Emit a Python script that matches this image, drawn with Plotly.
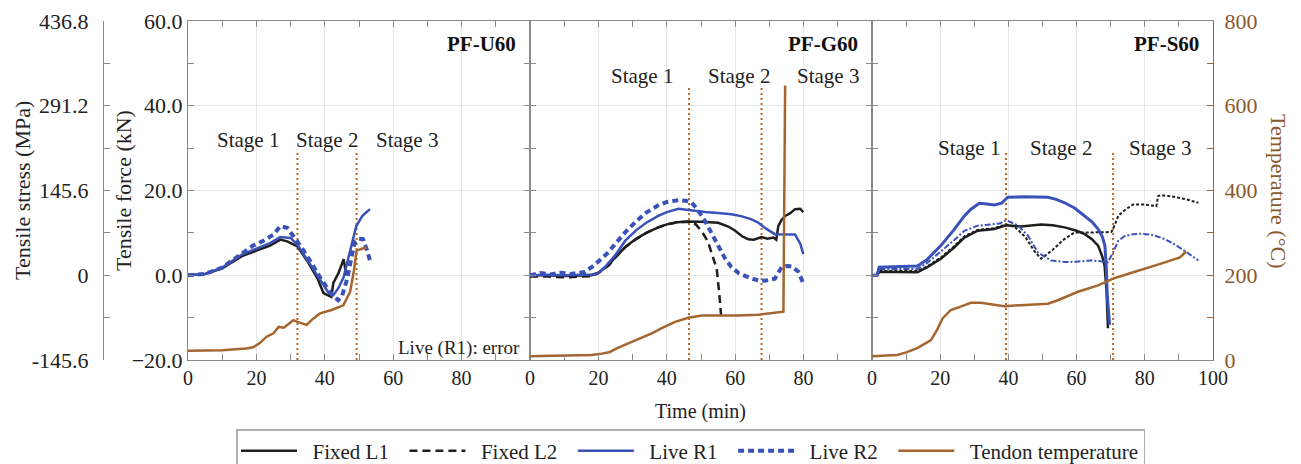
import plotly.graph_objects as go

# ---------------- DATA ----------------
# PF-U60 (panel 1)
u_l1_t = [0, 5, 10, 13, 16, 20, 24, 27, 29, 32, 35, 38, 39.6, 41.9, 42.5, 44, 45.5, 46.3]
u_l1_f = [0, 0.3, 1.6, 3.0, 4.6, 5.8, 7.0, 8.4, 8.0, 6.8, 3.2, -1.0, -4.2, -5.1, -1.8, 0.5, 3.8, 0.0]
u_r1_t = [0, 5, 10, 13, 16, 20, 24, 27, 30, 32, 35, 38, 41, 42.5, 44, 45.5, 46.8, 48, 49.2, 51, 53.2]
u_r1_f = [0, 0.3, 1.8, 3.3, 5.0, 6.3, 7.6, 9.0, 8.8, 7.2, 3.5, -0.5, -4.0, -4.7, -3.0, -0.5, 4.0, 8.0, 11.6, 14.0, 15.6]
u_r2_t = [0, 5, 10, 13, 16, 19, 22, 25, 27, 29, 31, 33, 36, 39, 42, 43.9, 45, 46.5, 48, 48.8, 50, 51.2, 52.3, 53.2]
u_r2_f = [0, 0.3, 1.8, 3.5, 5.3, 7.0, 8.1, 9.6, 11.6, 11.2, 9.0, 6.8, 3.0, -1.0, -4.5, -5.9, -5.0, -1.0, 5.0, 7.8, 8.6, 8.5, 6.0, 3.5]
u_tmp_t = [0, 10, 17, 19, 21, 23, 25, 26.5, 28, 30.8, 32, 34.7, 36.5, 38.6, 42, 45.4, 47.4, 48.5, 49.3, 50.5, 52.2]
u_tmp_v = [22, 23, 27, 30, 40, 55, 63, 78, 76, 94, 90, 83, 97, 110, 118, 129, 161, 210, 258, 262, 266]

# PF-G60 (panel 2)
g_l1_t = [0, 5, 10, 15, 18, 20, 23, 25, 27.8, 31, 34, 37.5, 40, 43, 46.3, 50, 55, 58, 60, 62, 63.8, 65.5,
          67.7, 69.5, 71.2, 72, 72.6, 73.5, 74.6, 76, 77.5, 79, 79.9]
g_l1_f = [0, 0, -0.2, 0, 0, 0.6, 2.4, 4.3, 6.6, 8.6, 10.0, 11.3, 12.0, 12.5, 12.7, 12.6, 12.4, 11.5, 10.5,
          9.2, 8.5, 8.4, 9.0, 8.6, 8.9, 8.4, 11.6, 13.0, 14.0, 14.6, 15.6, 15.7, 14.9]
g_l2_t = [0, 5, 10, 15, 18, 20, 23, 25, 27.8, 31, 34, 37.5, 40, 43, 46.3, 48.5, 50.5, 52, 53.5, 54.6, 55.3, 56.0]
g_l2_f = [-0.3, -0.3, -0.5, -0.4, -0.2, 0.5, 2.3, 4.2, 6.6, 8.5, 10.0, 11.3, 12.0, 12.5, 12.6, 12.0, 10.0,
          8.0, 4.5, 1.5, -4.0, -10.6]
g_r1_t = [0, 5, 10, 15, 18, 20, 22, 25, 27.8, 31, 34, 37.5, 40, 43.4, 46, 51.2, 55, 58.9, 62, 64.8, 66.8,
          69, 71.6, 74, 77.5, 79, 79.9]
g_r1_f = [0, 0.1, 0, 0.2, 0.2, 0.5, 2.0, 4.8, 8.1, 10.6, 12.4, 14.0, 14.9, 15.7, 15.4, 14.9, 14.7, 14.4,
          13.9, 13.2, 12.4, 11.0, 9.7, 9.7, 9.6, 7.5, 5.0]
g_r2_t = [0, 3, 6, 9, 12, 14, 16.1, 19, 22.9, 25, 27.8, 31, 34, 37.5, 40, 43.4, 45.5, 47.3, 49, 51.2, 53,
          55, 57, 58.9, 61, 64.8, 66.8, 68.7, 70.5, 71.6, 72.5, 73.6, 75, 76.5, 78.4, 79.9]
g_r2_f = [0, 0.5, 0.2, 0.6, 0.3, 0.6, 0.8, 2.5, 5.4, 7.5, 10.1, 12.7, 14.8, 16.5, 17.3, 17.7, 17.6, 17.1,
          15.5, 12.8, 10.0, 7.0, 4.0, 1.9, 0.5, -0.8, -1.2, -1.3, -1.1, -0.8, 0.5, 1.9, 2.2, 2.1, 0.9, -1.9]
g_tmp_t = [0, 10, 18, 21, 23.4, 25.5, 27.8, 31, 35.6, 39, 42.4, 46.3, 50.2, 55, 61, 66.8, 70, 74.1, 74.6]
g_tmp_v = [9, 10, 12, 15, 19, 28, 36, 48, 63, 77, 90, 99.5, 105, 105, 105, 107, 110, 114, 648]

# PF-S60 (panel 3)
s_l1_t = [0, 1.5, 2.1, 7, 13.3, 16, 20.2, 24, 27.1, 31, 35.9, 39.3, 43.7, 49.6, 53, 56.5, 60, 62.4, 64.5,
          66.3, 67.5, 68.2, 68.8, 69.2]
s_l1_f = [0, 0, 0.8, 0.7, 0.7, 1.8, 3.9, 6.5, 8.9, 10.5, 10.9, 11.8, 11.5, 12.0, 11.8, 11.3, 10.5, 9.7,
          8.5, 7.0, 4.5, 2.3, -4.0, -12.5]
s_l2_t = [0, 1.5, 2.1, 7, 13.3, 16, 20.2, 24, 27.1, 31, 35.9, 39.3, 42, 45, 47.5, 49.6, 53, 56, 59.4, 64.3,
          70.2, 71, 72.2, 74, 76.6, 80, 83.4, 83.9, 84.7, 88, 92.3, 95.7]
s_l2_f = [0, 0, 1.0, 1.0, 1.0, 2.0, 4.2, 6.8, 9.2, 10.7, 11.1, 12.0, 11.3, 9.0, 5.8, 3.9, 6.0, 8.3, 10.1,
          10.1, 10.2, 11.5, 14.0, 15.3, 16.7, 16.7, 16.3, 18.7, 18.9, 18.6, 17.9, 17.1]
s_r1_t = [0, 1.5, 2.1, 7, 13.3, 16, 20.2, 24, 27.1, 29, 31.5, 33, 35.9, 38, 39.8, 45, 51.6, 54, 56.5, 59.5,
          62.4, 64.5, 66.3, 67.5, 68.3, 68.7, 69.0, 69.7]
s_r1_f = [0, 0, 1.9, 2.0, 2.2, 3.6, 7.0, 10.7, 14.0, 15.6, 17.0, 16.9, 16.6, 17.0, 18.4, 18.5, 18.4, 17.9,
          17.1, 15.8, 14.0, 12.6, 10.9, 9.2, 7.0, 2.0, -5.0, -11.7]
s_r2_t = [0, 1.5, 2.1, 7, 13.3, 16, 20.2, 24, 27.1, 31, 35, 37.5, 39.3, 42.7, 45.7, 48.6, 52.5, 56.5, 60,
          64.3, 67, 69.2, 70.7, 72.2, 74, 76.6, 79, 82.4, 86, 89.3, 92.5, 95.7]
s_r2_f = [0, 0, 1.5, 1.5, 1.5, 2.8, 5.6, 8.2, 10.5, 11.7, 12.0, 12.2, 13.0, 11.8, 9.4, 5.4, 3.5, 3.1, 3.2,
          3.5, 3.3, 3.1, 5.4, 8.1, 9.2, 9.7, 9.8, 9.5, 8.5, 7.0, 5.3, 3.5]
s_tmp_t = [0, 7.4, 10, 13.3, 17.3, 19, 20.7, 23.1, 26, 29, 31.9, 35, 38.8, 45, 51.6, 54.5, 57, 60.4, 66.3,
           70.7, 75, 80, 85, 90.3, 92.1]
s_tmp_v = [9, 12, 18, 28, 47, 70, 98, 118, 126, 135, 135, 131, 127, 130, 133, 141, 150, 161, 176, 192,
           203, 215, 228, 242, 256]

# stage boundaries and labels per panel
panel_names = ["PF-U60", "PF-G60", "PF-S60"]
stage_x = [[32, 49.3], [46.5, 67.7], [39.3, 70.7]]
stage_top = [29.6, 44.4, 29.2]
stage_label_x = [[17.5, 40.5, 64], [32.7, 61, 87.2], [28.5, 55.5, 84.4]]
stage_label_y = [32.0, 47.1, 30.0]
stage_labels = ["Stage 1", "Stage 2", "Stage 3"]

force_ticks = [-20, 0, 20, 40, 60]
stress_ticks = [-145.6, 0, 145.6, 291.2, 436.8]
stress_ticktext = ["-145.6", "0", "145.6", "291.2", "436.8"]
temp_ticks = [0, 200, 400, 600, 800]

# ---------------- STYLE ----------------
FONT = "Liberation Serif"
BLACK = "#1e1e1e"
BLUE = "#3a52b8"
BROWN = "#a4652f"
STAGE = "#b9692a"
TCOL = "#8a5a2e"
AX = "#8a8a8a"
GRID = "#e8e8e8"
W, H = 1301, 464
NB = "\u00a0\u00a0"  # legend text padding

styles = {
    "Fixed L1": dict(color=BLACK, width=2.5, dash="solid"),
    "Fixed L2": dict(color=BLACK, width=2.5, dash="8px,5px"),
    "Live R1": dict(color=BLUE, width=2.5, dash="solid"),
    "Live R2": dict(color=BLUE, width=4, dash="6px,4px"),
    "Tendon temperature": dict(color=BROWN, width=2.5, dash="solid"),
}
rank = {"Fixed L1": 1, "Fixed L2": 2, "Live R1": 3, "Live R2": 4, "Tendon temperature": 5}

panels = [
    {"Fixed L1": (u_l1_t, u_l1_f), "Live R1": (u_r1_t, u_r1_f), "Live R2": (u_r2_t, u_r2_f),
     "Tendon temperature": (u_tmp_t, u_tmp_v)},
    {"Fixed L1": (g_l1_t, g_l1_f), "Fixed L2": (g_l2_t, g_l2_f), "Live R1": (g_r1_t, g_r1_f),
     "Live R2": (g_r2_t, g_r2_f), "Tendon temperature": (g_tmp_t, g_tmp_v)},
    {"Fixed L1": (s_l1_t, s_l1_f), "Fixed L2": (s_l2_t, s_l2_f), "Live R1": (s_r1_t, s_r1_f),
     "Live R2": (s_r2_t, s_r2_f), "Tendon temperature": (s_tmp_t, s_tmp_v)},
]

fig = go.Figure()

for i, pdata in enumerate(panels):
    xa = "x" if i == 0 else f"x{i+1}"
    ya = "y" if i == 0 else f"y{i+1}"
    yt = f"y{i+4}"
    for sx in stage_x[i]:
        fig.add_trace(go.Scatter(x=[sx, sx], y=[-20, stage_top[i]], mode="lines", xaxis=xa, yaxis=ya,
                                 line=dict(color=STAGE, width=2, dash="2px,3px"), showlegend=False,
                                 hoverinfo="skip"))
    for name in ["Tendon temperature", "Fixed L2", "Fixed L1", "Live R2", "Live R1"]:
        if name not in pdata:
            continue
        t, v = pdata[name]
        st = dict(styles[name])
        if i == 2 and name == "Fixed L2":
            st.update(width=2, dash="3px,2px")
        if i == 2 and name == "Live R2":
            st.update(width=2, dash="6px,2px,2px,2px")
        if i == 2 and name in ("Live R1",):
            st.update(width=3)
        fig.add_trace(go.Scatter(
            x=t, y=v, mode="lines", name=NB + name + (NB if rank[name] < 5 else ""), xaxis=xa,
            legendgroup=name, yaxis=yt if name == "Tendon temperature" else ya,
            line=st, showlegend=(i == 1), legendrank=rank[name]))

# ---------------- LAYOUT ----------------
mt, mb = 21, 104
plot_h = H - mt - mb
x_edges = [188, 530, 872, 1213]


def px(v):
    return v / W


def py(v):
    return (H - mb - v) / plot_h


layout = dict(
    width=W, height=H, margin=dict(l=0, r=0, t=mt, b=mb, autoexpand=False),
    paper_bgcolor="white", plot_bgcolor="white",
    font=dict(family=FONT, size=20, color="#222"),
    showlegend=True,
    legend=dict(orientation="h", x=px(236), xanchor="left", y=py(429), yanchor="top",
                font=dict(family=FONT, size=21, color="#222"), bordercolor="#b0b0b0", borderwidth=1.5,
                itemwidth=56, bgcolor="white"),
)

for i in range(3):
    key = "xaxis" if i == 0 else f"xaxis{i+1}"
    tv = [0, 20, 40, 60, 80] if i < 2 else [0, 20, 40, 60, 80, 100]
    layout[key] = dict(
        domain=[px(x_edges[i]), px(x_edges[i + 1])], range=[0, 100], anchor="y" if i == 0 else f"y{i+1}",
        tickvals=tv, ticks="inside", ticklen=6, tickcolor=AX, showline=True, linecolor=AX, linewidth=1,
        mirror="ticks", showgrid=True, gridcolor=GRID, gridwidth=1, zeroline=False, automargin=False,
        tickfont=dict(size=20, color="#222"),
        minor=dict(tickmode="linear", tick0=0, dtick=10, ticks="inside", ticklen=6, tickcolor=AX,
                   showgrid=False),
    )
    ykey = "yaxis" if i == 0 else f"yaxis{i+1}"
    layout[ykey] = dict(
        domain=[0, 1], range=[-20, 60], anchor="x" if i == 0 else f"x{i+1}",
        tickvals=force_ticks, tickformat=".1f", showticklabels=(i == 0), automargin=False,
        ticks="inside", ticklen=6, tickcolor=AX, showline=True, linecolor=AX, linewidth=1, mirror="ticks",
        showgrid=True, gridcolor=GRID, zeroline=False, tickfont=dict(size=22, color="#222"),
        minor=dict(tickmode="linear", tick0=0, dtick=10, ticks="inside", ticklen=6, tickcolor=AX,
                   showgrid=False),
    )
    tkey = f"yaxis{i+4}"
    layout[tkey] = dict(
        range=[0, 800], overlaying="y" if i == 0 else f"y{i+1}", anchor="x" if i == 0 else f"x{i+1}",
        side="right", showgrid=False, zeroline=False, automargin=False,
        visible=(i == 2),
        tickvals=temp_ticks, ticks="inside", ticklen=6, tickcolor=BROWN, showline=True,
        linecolor=BROWN, linewidth=1.2, tickfont=dict(size=22, color=TCOL), ticklabelstandoff=6,
        minor=dict(tickmode="linear", tick0=0, dtick=100, ticks="inside", ticklen=6, tickcolor=BROWN),
    )

layout["yaxis7"] = dict(
    range=[-145.6, 436.8], overlaying="y", anchor="free", position=px(103), side="left",
    tickvals=stress_ticks, ticktext=stress_ticktext, ticks="inside", ticklen=6, tickcolor=AX,
    showline=True, linecolor=AX, linewidth=1, showgrid=False, zeroline=False, automargin=False,
    tickfont=dict(size=22, color="#222"), ticklabelstandoff=10,
    minor=dict(tickmode="linear", tick0=-145.6, dtick=72.8, ticks="inside", ticklen=6, tickcolor=AX),
)
fig.add_trace(go.Scatter(x=[None], y=[None], xaxis="x", yaxis="y7", showlegend=False, hoverinfo="skip"))

fig.update_layout(**layout)

ann = []
ann.append(dict(text="Tensile stress (MPa)", x=px(22), y=py(191), xref="paper", yref="paper", textangle=-90,
                xanchor="center", yanchor="middle", showarrow=False, font=dict(size=22, color="#222")))
ann.append(dict(text="Tensile force (kN)", x=px(123), y=py(191), xref="paper", yref="paper", textangle=-90,
                xanchor="center", yanchor="middle", showarrow=False, font=dict(size=22, color="#222")))
ann.append(dict(text="Temperature (°C)", x=px(1279), y=py(191), xref="paper", yref="paper", textangle=90,
                xanchor="center", yanchor="middle", showarrow=False, font=dict(size=22, color=TCOL)))
ann.append(dict(text="Time (min)", x=px(700), y=py(411), xref="paper", yref="paper",
                xanchor="center", yanchor="middle", showarrow=False, font=dict(size=20, color="#222")))
for i in range(3):
    xa = "x" if i == 0 else f"x{i+1}"
    ya = "y" if i == 0 else f"y{i+1}"
    ann.append(dict(text=f"<b>{panel_names[i]}</b>", x=0.965, y=py(44), xref=f"{xa} domain",
                    yref="paper", xanchor="right", yanchor="middle", showarrow=False,
                    font=dict(size=21, color="#111")))
    for lx, lt in zip(stage_label_x[i], stage_labels):
        ann.append(dict(text=lt, x=lx, y=stage_label_y[i], xref=xa, yref=ya, showarrow=False,
                        xanchor="center", yanchor="middle", font=dict(size=21, color="#222")))
ann.append(dict(text="Live (R1): error", x=0.977, y=py(348), xref="x domain", yref="paper",
                xanchor="right", yanchor="middle", showarrow=False, font=dict(size=19, color="#222")))
fig.update_layout(annotations=ann)

fig.write_html("out.html", config={"displayModeBar": False},
               post_script="document.body.style.margin='0px';document.body.style.overflow='hidden';")
